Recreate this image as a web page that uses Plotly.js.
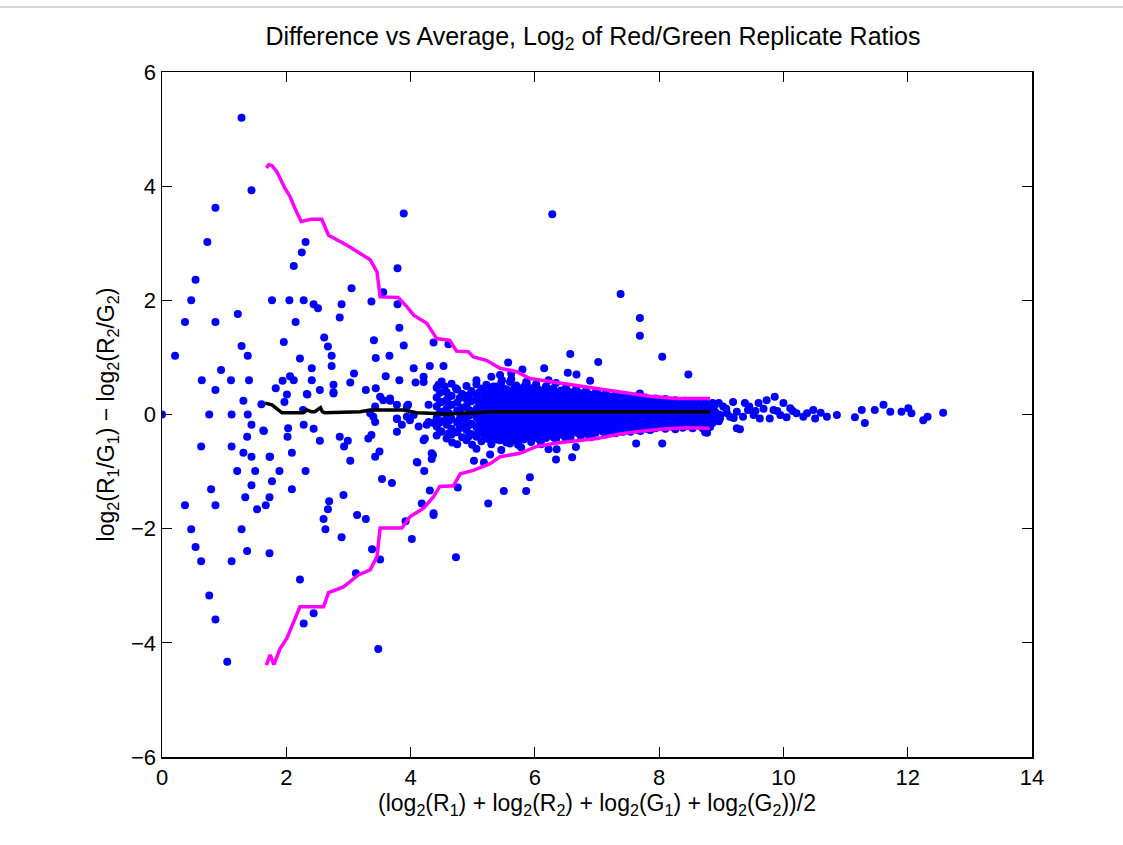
<!DOCTYPE html>
<html>
<head>
<meta charset="utf-8">
<script src="https://cdn.plot.ly/plotly-3.0.1.min.js"></script>
<style>html,body{margin:0;padding:0;background:#fff;}#chart{width:1123px;height:845px;}</style>
</head>
<body>
<div id="chart"></div>
<script>
// Sparse scattered points (average, difference)
const sparseX = [1.28,1.44,0.86,0.73,0.54,0.47,0.37,0.86,1.22,0.21,0,0.76,1.12,1.38,0.64,0.95,1.11,1.40,0.86,1.28,1.38,1.31,1.60,
  1.77,2.05,2.28,2.44,2.51,2.89,3.05,3.37,3.79,3.79,3.89,2.31,2.25,2.12,2.15,2.86,3.82,3.56,1.96,2.61,2.67,2.73,2.22,2.41,2.73,
  3.41,3.44,3.66,3.89,4.37,4.05,4.31,4.53,4.21,4.08,3.82,3.60,3.09,3.03,2.41,2.06,2.12,1.94,1.83,2.01,1.97,2.34,2.54,2.76,2.76,
  3.28,3.44,3.51,3.67,4.45,3.56,3.67,4.21,2.27,3.78,3.96,4.29,3.40,3.43,3.35,3.78,3.94,3.99,3.43,3.94,4.05,2.76,2.33,
  1.44,1.64,1.37,0.63,1.12,1.31,1.44,1.73,1.21,1.50,1.89,2.31,1.77,1.44,0.79,2.09,1.34,1.73,0.37,0.86,1.53,1.67,0.47,1.28,
  0.54,1.37,1.73,0.63,1.12,0.76,0.86,1.05,3.48,2.22,2.44,2.28,3.12,3.38,3.51,4.02,2.89,3.14,3.28,2.69,2.67,2.60,2.63,2.92,
  3.54,3.70,3.03,3.43,3.50,4.11,4.22,4.34,4.34,4.31,4.18,4.37,3.92,2.54,2.28,2.44,2.02,2.09,2.86,2.99,2.93,3.32,3.37,3.78,
  3.86,3.78,1.63,2.03,4.13,4.26,4.23,4.21,4.10,4.29,4.37,1.74,
  6.28,7.38,7.69,7.69,8.05,8.47,6.57,7.02,5.57,6.15,5.80,6.53,6.67,6.89,4.61,5.44,5.62,5.47,5.06,4.73,4.55,5.87,6.03,6.18,
  6.22,5.60,5.33,7.69,
  4.73,5.25,5.50,5.86,5.92,4.37,4.36,4.76,5.02,5.18,5.28,4.67,4.99,5.25,6.34,6.60,6.22,6.35,6.66,7.63,8.05,8.77,6.57,5.60,
  5.73,5.44];
const sparseY = [5.20,3.93,3.62,3.02,2.36,2.00,1.62,1.62,1.76,1.03,0,0,0,0,0.60,0.78,0.60,0.60,0.43,1.20,1.03,0.24,0.18,
  2.00,2.00,2.00,1.93,1.86,1.93,2.21,1.98,1.93,2.56,3.52,3.02,2.84,2.60,1.62,1.70,1.52,2.14,1.27,1.35,1.19,1.03,0.98,0.81,0.85,
  1.30,0.99,1.03,1.21,1.26,0.81,0.85,0.85,0.66,0.56,0.60,0.67,0.72,0.56,0.60,0.67,0.60,0.59,0.46,0.35,0.22,0.35,0.43,0.52,0.39,
  0.43,0.46,0.31,0.24,0.52,0.25,0.28,0.57,0.08,0.17,0.17,0.17,-0.04,-0.13,0.02,-0.08,-0.04,-0.10,0.14,0.14,-0.01,0.37,0.36,
  -0.18,-0.29,-0.39,-0.56,-0.56,-0.67,-0.74,-0.74,-0.99,-0.99,-0.99,-0.99,-1.17,-1.24,-1.31,-1.31,-1.45,-1.45,-1.59,-1.59,-1.66,-1.59,-2.01,-2.01,
  -2.32,-2.39,-2.43,-2.57,-2.57,-3.17,-3.59,-4.33,-4.11,-2.89,-3.48,-3.66,-2.78,-2.36,-2.54,-2.18,-2.15,-1.76,-1.83,-1.52,-1.66,-1.83,-2.01,-1.41,
  -1.13,-1.20,-0.81,-0.74,-0.65,-0.84,-0.99,-0.68,-0.78,-1.33,-1.56,-1.73,-1.87,-0.46,-0.18,-0.25,-0.39,-0.67,-0.39,-0.46,-0.56,-0.42,-0.36,-0.07,
  -0.18,-0.30,-0.28,-0.24,-0.21,-0.18,-0.42,-0.45,-0.83,-0.13,-0.15,-0.74,
  3.51,2.11,1.69,1.38,1.01,0.70,1.06,0.92,0.91,0.81,0.79,0.73,0.70,0.59,1.23,0.69,0.72,0.60,0.53,0.46,0.49,0.55,0.42,0.49,
  0.60,0.57,0.49,0.37,
  -2.50,-1.56,-1.34,-1.34,-1.10,-1.76,-0.71,-1.28,-0.81,-0.84,-0.70,-0.49,-0.53,-0.43,-0.79,-0.75,-0.61,-0.61,-0.57,-0.51,-0.51,-0.30,-0.42,-0.51,
  -0.53,-0.45];

// Dense central cloud, read column by column
const denseCols = [
  [4.42,[0.47,0.30,0.14,-0.06,-0.21,-0.37]],
  [4.47,[0.38,0.21,0.03,-0.14,-0.29]],
  [4.50,[0.58,0.22,0.05,-0.12,-0.30]],
  [4.58,[0.39,0.26,0.10,-0.03,-0.18,-0.42]],
  [4.62,[0.31,0.16,0.02,-0.11,-0.33]],
  [4.66,[0.54,0.33,0.17,-0.08,-0.25,-0.35]],
  [4.75,[0.44,0.21,0.07,-0.14,-0.31,-0.52]],
  [4.79,[0.29,0.03,-0.08,-0.24]],
  [4.83,[0.36,0.12,-0.02,-0.20,-0.40]],
  [4.90,[0.50,0.27,0.15,-0.09,-0.27,-0.45]],
  [4.94,[0.34,0.08,-0.02,-0.19,-0.38]],
  [4.98,[0.41,0.23,0.04,-0.16,-0.34]],
  [5.06,[0.60,0.31,0.10,-0.05,-0.22,-0.39,-0.60]],
  [5.10,[0.38,0.21,0.14,0.01,-0.10,-0.30]],
  [5.14,[0.45,0.18,0.02,-0.13,-0.29,-0.47]],
  [5.18,[0.35,0.27,0.09,-0.07,-0.21,-0.36]],
  [5.22,[0.52,0.34,0.20,0.06,-0.10,-0.25,-0.40]],
  [5.26,[0.43,0.28,0.13,-0.01,-0.17,-0.31]],
  [5.30,[0.66,0.40,0.24,0.12,-0.04,-0.19,-0.33,-0.52]],
  [5.34,[0.33,0.18,0.05,-0.10,-0.26,-0.39]],
  [5.38,[0.49,0.28,0.15,0.01,-0.14,-0.30,-0.44]],
  [5.42,[0.40,0.23,0.09,-0.05,-0.20,-0.34]],
  [5.46,[0.56,0.36,0.19,0.05,-0.09,-0.24,-0.38,-0.62]],
  [5.50,[0.45,0.27,0.12,-0.03,-0.16,-0.29,-0.42]],
  [5.54,[0.44,0.30,0.13,-0.02,-0.17,-0.33,-0.49]],
  [5.58,[0.36,0.21,0.06,-0.10,-0.24,-0.39]],
  [5.62,[0.62,0.38,0.22,0.08,-0.07,-0.21,-0.36]],
  [5.66,[0.45,0.29,0.14,-0.01,-0.15,-0.30,-0.41]],
  [5.70,[0.51,0.32,0.17,0.03,-0.12,-0.28,-0.45]],
  [5.74,[0.37,0.21,0.06,-0.08,-0.23,-0.37]],
  [5.78,[0.43,0.25,0.10,-0.05,-0.19,-0.34,-0.58]],
  [5.82,[0.48,0.29,0.15,0.01,-0.14,-0.29,-0.44]],
  [5.86,[0.57,0.35,0.20,0.06,-0.09,-0.25,-0.40]],
  [5.90,[0.40,0.24,0.09,-0.04,-0.19,-0.35]],
  [5.94,[0.46,0.29,0.14,0.00,-0.15,-0.31,-0.48]],
  [5.98,[0.38,0.22,0.07,-0.08,-0.23,-0.39]],
  [6.02,[0.53,0.37,0.21,0.07,-0.08,-0.22,-0.37]],
  [6.06,[0.44,0.30,0.15,0.02,-0.13,-0.28,-0.43]],
  [6.10,[0.41,0.26,0.12,-0.03,-0.18,-0.33,-0.52]],
  [6.14,[0.35,0.20,0.06,-0.09,-0.24,-0.39]],
  [6.18,[0.48,0.32,0.18,0.04,-0.11,-0.26,-0.41]],
  [6.22,[0.42,0.27,0.13,-0.01,-0.16,-0.31]],
  [6.26,[0.39,0.24,0.09,-0.06,-0.20,-0.35]],
  [6.30,[0.46,0.30,0.16,0.02,-0.13,-0.28,-0.40]],
  [6.34,[0.55,0.34,0.19,0.05,-0.10,-0.24,-0.44]],
  [6.38,[0.37,0.22,0.08,-0.07,-0.21,-0.35]],
  [6.42,[0.42,0.28,0.13,-0.01,-0.16,-0.30]],
  [6.46,[0.35,0.20,0.06,-0.09,-0.23,-0.37]],
  [6.50,[0.47,0.31,0.16,0.02,-0.13,-0.27,-0.43]],
  [6.54,[0.40,0.26,0.11,-0.04,-0.18,-0.32]],
  [6.58,[0.38,0.23,0.08,-0.06,-0.21,-0.36]],
  [6.62,[0.33,0.18,0.04,-0.11,-0.26]],
  [6.66,[0.44,0.30,0.15,0.01,-0.14,-0.29]],
  [6.70,[0.39,0.25,0.10,-0.04,-0.18,-0.33]],
  [6.74,[0.36,0.22,0.07,-0.08,-0.22,-0.38]],
  [6.78,[0.31,0.17,0.03,-0.12,-0.27]],
  [6.82,[0.41,0.27,0.12,-0.03,-0.17,-0.31]],
  [6.86,[0.36,0.22,0.08,-0.06,-0.21,-0.35]],
  [6.90,[0.34,0.19,0.05,-0.10,-0.24,-0.40]],
  [6.94,[0.29,0.15,0.01,-0.14,-0.28]],
  [6.98,[0.39,0.25,0.11,-0.04,-0.18,-0.32]],
  [7.02,[0.35,0.21,0.07,-0.08,-0.22]],
  [7.06,[0.33,0.18,0.03,-0.12,-0.26]],
  [7.10,[0.28,0.14,0.00,-0.15,-0.30]],
  [7.14,[0.37,0.23,0.09,-0.06,-0.20,-0.35]],
  [7.18,[0.32,0.18,0.04,-0.10,-0.24]],
  [7.22,[0.31,0.16,0.02,-0.13,-0.27]],
  [7.26,[0.27,0.12,-0.02,-0.17,-0.30]],
  [7.30,[0.35,0.21,0.07,-0.08,-0.22,-0.33]],
  [7.34,[0.30,0.16,0.03,-0.12,-0.26]],
  [7.38,[0.29,0.15,0.01,-0.14,-0.28]],
  [7.42,[0.25,0.11,-0.03,-0.18,-0.30]],
  [7.46,[0.33,0.19,0.05,-0.09,-0.23]],
  [7.50,[0.29,0.15,0.01,-0.13,-0.27]],
  [7.54,[0.27,0.13,-0.01,-0.15,-0.30]],
  [7.58,[0.23,0.09,-0.05,-0.19]],
  [7.62,[0.31,0.17,0.04,-0.10,-0.24]],
  [7.66,[0.28,0.14,0.00,-0.14,-0.27]],
  [7.70,[0.26,0.12,-0.02,-0.16,-0.29]],
  [7.74,[0.22,0.08,-0.06,-0.20]],
  [7.78,[0.30,0.16,0.03,-0.11,-0.22]],
  [7.82,[0.27,0.13,-0.01,-0.15,-0.26]],
  [7.86,[0.25,0.10,-0.03,-0.17,-0.27]],
  [7.90,[0.21,0.07,-0.07,-0.21]],
  [7.94,[0.28,0.14,0.01,-0.12,-0.24]],
  [7.98,[0.25,0.11,-0.02,-0.16]],
  [8.02,[0.23,0.09,-0.04,-0.18]],
  [8.06,[0.20,0.06,-0.08,-0.22]],
  [8.10,[0.27,0.13,0.00,-0.13,-0.25]],
  [8.14,[0.24,0.10,-0.03,-0.17]],
  [8.18,[0.22,0.08,-0.05,-0.19]],
  [8.22,[0.19,0.05,-0.09,-0.22]],
  [8.26,[0.25,0.11,-0.02,-0.14,-0.26]],
  [8.30,[0.22,0.08,-0.05,-0.18]],
  [8.34,[0.20,0.06,-0.07,-0.20]],
  [8.38,[0.17,0.03,-0.11,-0.23]],
  [8.42,[0.24,0.10,-0.03,-0.15]],
  [8.46,[0.21,0.07,-0.06,-0.19]],
  [8.50,[0.19,0.05,-0.08,-0.21]],
  [8.54,[0.16,0.02,-0.12,-0.24]],
  [8.58,[0.22,0.09,-0.04,-0.16]],
  [8.62,[0.20,0.06,-0.07,-0.19]],
  [8.66,[0.18,0.04,-0.09,-0.20]],
  [8.70,[0.15,0.01,-0.13,-0.24]],
  [8.74,[0.21,0.08,-0.05,-0.17,-0.31]],
  [8.78,[0.18,0.05,-0.08,-0.20]],
  [8.82,[0.15,0.02,-0.10,-0.22]],
  [8.86,[0.20,0.07,-0.04,-0.15]],
  [8.90,[0.17,0.05,-0.06]],
  [8.96,[0.20,0.00,-0.12]]
];

// Right-hand tail (high intensity)
const tailX = [9.19,9.86,9.73,9.38,9.60,10.00,9.03,9.25,9.43,9.84,9.52,9.62,9.78,9.95,10.11,10.21,10.32,10.48,10.51,10.70,10.86,
  9.25,9.30,8.98,8.98,9.09,9.14,9.35,8.77,11.15,11.26,11.31,11.47,11.61,11.72,11.90,12.01,12.06,12.25,12.32,12.57,
  9.08,9.20,9.45,9.55,9.68,9.90,10.05,10.15,10.38,10.60];
const tailY = [0.22,0.31,0.25,0.20,0.20,0.20,0.14,0.05,0.08,0.08,-0.01,-0.07,-0.07,-0.01,0.11,0.02,-0.04,0.08,-0.07,-0.04,-0.01,
  -0.24,-0.26,-0.01,-0.07,0.02,-0.04,-0.04,-0.32,-0.05,0.08,-0.15,0.08,0.17,0.05,0.05,0.11,0.02,-0.10,-0.04,0.03,
  0.10,-0.06,0.14,0.06,0.10,0.06,-0.05,0.06,0.02,0.03];

// Upper / lower envelope (magenta) and running median (black)
const upperX = [1.68,1.72,1.77,1.80,1.85,1.98,2.06,2.14,2.24,2.40,2.57,2.68,2.97,3.19,3.35,3.46,3.51,3.80,3.94,4.05,4.26,4.42,4.63,4.74,4.93,5.01,5.22,5.44,5.71,5.92,6.19,6.57,6.83,7.21,7.53,7.85,8.28,8.82];
const upperY = [4.32,4.38,4.36,4.32,4.25,3.96,3.82,3.61,3.38,3.42,3.42,3.14,2.97,2.82,2.71,2.50,2.06,2.05,1.89,1.74,1.60,1.33,1.30,1.11,1.10,1.01,0.95,0.81,0.75,0.63,0.59,0.53,0.48,0.42,0.37,0.32,0.28,0.28];
const lowerX = [1.68,1.74,1.80,1.90,2.01,2.11,2.22,2.60,2.68,2.92,3.16,3.35,3.46,3.51,3.86,3.99,4.21,4.37,4.47,4.69,4.80,5.01,5.28,5.44,5.76,6.03,6.35,6.67,7.00,7.32,7.64,8.01,8.44,8.81];
const lowerY = [-4.39,-4.21,-4.38,-4.10,-3.92,-3.66,-3.37,-3.37,-3.12,-3.02,-2.81,-2.72,-2.49,-1.99,-1.99,-1.79,-1.64,-1.44,-1.26,-1.25,-1.04,-0.98,-0.86,-0.74,-0.68,-0.56,-0.50,-0.46,-0.42,-0.35,-0.30,-0.26,-0.23,-0.24];
const medX = [1.66,1.77,1.93,2.27,2.33,2.40,2.46,2.55,2.58,2.62,3.19,3.35,3.88,4.10,4.63,5.30,8.82];
const medY = [0.20,0.17,0.03,0.03,0.08,0.05,0.05,0.12,0.05,0.03,0.05,0.08,0.08,0.03,0.01,0.05,0.05];

const xTicks = [0,2,4,6,8,10,12,14];
const yTicks = [-6,-4,-2,0,2,4,6];

const denseX = [], denseY = [];
denseCols.forEach(c => c[1].forEach(v => { denseX.push(c[0]); denseY.push(v); }));

const ptsX = sparseX.concat(denseX, tailX);
const ptsY = sparseY.concat(denseY, tailY);

const FONT = 'Liberation Sans';

const traces = [
  {x: ptsX, y: ptsY, type: 'scatter', mode: 'markers',
   marker: {color: '#0000ff', size: 8, symbol: 'circle', line: {width: 0}}, hoverinfo: 'x+y'},
  {x: upperX, y: upperY, type: 'scatter', mode: 'lines', line: {color: '#ff00ff', width: 3.5}},
  {x: lowerX, y: lowerY, type: 'scatter', mode: 'lines', line: {color: '#ff00ff', width: 3.5}},
  {x: medX, y: medY, type: 'scatter', mode: 'lines', line: {color: '#000000', width: 3.5}}
];

function axis(extra) {
  return Object.assign({
    showline: true, linecolor: '#000', linewidth: 1.5, mirror: 'ticks',
    ticks: 'inside', ticklen: 10, tickwidth: 1, tickcolor: '#000',
    showgrid: false, zeroline: false, tickmode: 'array',
    tickfont: {family: FONT, size: 22, color: '#000'}
  }, extra);
}

const layout = {
  width: 1123, height: 845,
  paper_bgcolor: '#fff', plot_bgcolor: '#fff',
  margin: {l: 162, r: 91, t: 72, b: 88},
  showlegend: false,
  font: {family: FONT, size: 22, color: '#000'},
  title: {text: 'Difference vs Average, Log<sub>2</sub> of Red/Green Replicate Ratios',
          font: {family: FONT, size: 25, color: '#000'}, x: 0.528, xanchor: 'center', y: 0.957, yanchor: 'middle'},
  xaxis: axis({range: [0, 14], tickvals: xTicks, ticktext: xTicks.map(String),
    title: {text: '(log<sub>2</sub>(R<sub>1</sub>) + log<sub>2</sub>(R<sub>2</sub>) + log<sub>2</sub>(G<sub>1</sub>) + log<sub>2</sub>(G<sub>2</sub>))/2',
            font: {family: FONT, size: 23, color: '#000'}, standoff: 6}}),
  yaxis: axis({range: [-6, 6], tickvals: yTicks, ticktext: yTicks.map(v => v < 0 ? '\u2212' + Math.abs(v) : String(v)),
    title: {text: 'log<sub>2</sub>(R<sub>1</sub>/G<sub>1</sub>) \u2212 log<sub>2</sub>(R<sub>2</sub>/G<sub>2</sub>)',
            font: {family: FONT, size: 23, color: '#000'}, standoff: 10}}),
  shapes: [
    {type: 'line', xref: 'paper', yref: 'paper', x0: -0.19, x1: 1.11, y0: 1.0949, y1: 1.0949,
     line: {color: '#c8c8c8', width: 1.5}}
  ]
};

Plotly.newPlot('chart', traces, layout, {displayModeBar: false, staticPlot: true});
</script>
</body>
</html>
